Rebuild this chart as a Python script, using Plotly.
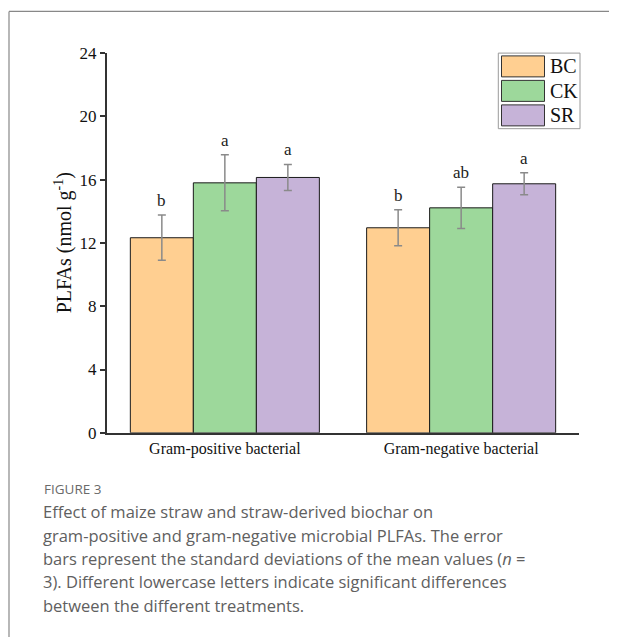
import plotly.graph_objects as go

categories = ["Gram-positive bacterial", "Gram-negative bacterial"]
treatments = ["BC", "CK", "SR"]
colors = ["#FFCF91", "#9DD89B", "#C6B3D8"]
means = {
    "BC": [12.33, 12.96],
    "CK": [15.80, 14.22],
    "SR": [16.14, 15.74],
}
sds = {
    "BC": [1.43, 1.14],
    "CK": [1.77, 1.30],
    "SR": [0.82, 0.70],
}
letters = {
    "BC": ["b", "b"],
    "CK": ["a", "ab"],
    "SR": ["a", "a"],
}
yticks = [0, 4, 8, 12, 16, 20, 24]

# figure size and observed page offset / vertical scale of the capture
W, H = 601, 630
OX, OY, KY = 8, 16.6, 0.970


def px(x):
    return (x - OX) / W


def py(y):
    return 1 - ((y - OY) / KY) / H


serif = "Liberation Serif, Times New Roman, serif"
sans = "Open Sans, Noto Sans, sans-serif"

bw = 0.8 / 3
offsets = [-bw, 0, bw]

fig = go.Figure()
for j, t in enumerate(treatments):
    xs = [i + offsets[j] for i in range(len(categories))]
    fig.add_trace(go.Bar(
        x=xs, y=means[t], width=bw, name=t,
        marker=dict(color=colors[j], line=dict(color="#1a1a1a", width=1)),
        error_y=dict(type="data", array=sds[t], visible=True,
                     color="#8a8a8a", thickness=1.5, width=4),
        showlegend=False,
    ))
    for i in range(len(categories)):
        fig.add_annotation(x=xs[i], y=means[t][i] + sds[t][i], text=letters[t][i],
                           showarrow=False, yanchor="bottom", yshift=3,
                           font=dict(family=serif, size=17, color="#222"))

# legend drawn manually
fig.add_shape(type="rect", xref="paper", yref="paper", x0=px(498.3), x1=px(580), y0=py(128.3), y1=py(52.7),
              line=dict(color="#9a9a9a", width=1), fillcolor="white")
for j, t in enumerate(treatments):
    cy = 66 + j * 24.5
    fig.add_shape(type="rect", xref="paper", yref="paper",
                  x0=px(501.5), x1=px(544.5), y0=py(cy + 10.5), y1=py(cy - 10.5),
                  line=dict(color="#333", width=1), fillcolor=colors[j])
    fig.add_annotation(xref="paper", yref="paper", x=px(548), y=py(cy), text=t,
                       showarrow=False, xanchor="left", yanchor="middle",
                       font=dict(family=serif, size=20, color="#111"))

# y-axis title
fig.add_annotation(xref="paper", yref="paper", x=px(63), y=py(243), text="PLFAs (nmol g<sup>-1</sup>)",
                   textangle=-90, showarrow=False, xanchor="center", yanchor="middle",
                   font=dict(family=serif, size=20, color="#111"))

# frame border
fig.add_shape(type="line", xref="paper", yref="paper", x0=px(9), x1=px(9), y0=-0.1, y1=py(11),
              line=dict(color="#888", width=1.2))
fig.add_shape(type="line", xref="paper", yref="paper", x0=px(9), x1=1.05, y0=py(11), y1=py(11),
              line=dict(color="#888", width=1.2))

# caption
fig.add_annotation(xref="paper", yref="paper", x=px(41.5), y=py(489), text="FIGURE 3",
                   showarrow=False, xanchor="left", yanchor="middle",
                   font=dict(family=sans, size=13.5, color="#6a6a6a"))
cap_lines = [
    "Effect of maize straw and straw-derived biochar on",
    "gram-positive and gram-negative microbial PLFAs. The error",
    "bars represent the standard deviations of the mean values (<i>n</i> =",
    "3). Different lowercase letters indicate significant differences",
    "between the different treatments.",
]
for k, line in enumerate(cap_lines):
    fig.add_annotation(xref="paper", yref="paper", x=px(41), y=py(511.5 + k * 23.3),
                       text=line, showarrow=False, xanchor="left", yanchor="middle",
                       font=dict(family=sans, size=16.5, color="#606060"))

fig.update_layout(
    width=W, height=H, margin=dict(l=0, r=0, t=0, b=0),
    paper_bgcolor="white", plot_bgcolor="white",
    bargap=0.2,
    xaxis=dict(domain=[px(106.7), px(579.3)], range=[-0.5, 1.5], tickvals=[0, 1], ticktext=categories,
               showline=True, linecolor="#333", linewidth=1.5, ticks="", showgrid=False, zeroline=False,
               tickfont=dict(family=serif, size=16, color="#111")),
    yaxis=dict(domain=[py(432.5), py(52.7)], range=[0, 24], tickvals=yticks,
               showline=True, linecolor="#333", linewidth=1.5, ticks="outside", ticklen=5,
               tickcolor="#333", tickwidth=1.5, showgrid=False, zeroline=False,
               tickfont=dict(family=serif, size=17, color="#111")),
)

fig.write_html("out.html")
